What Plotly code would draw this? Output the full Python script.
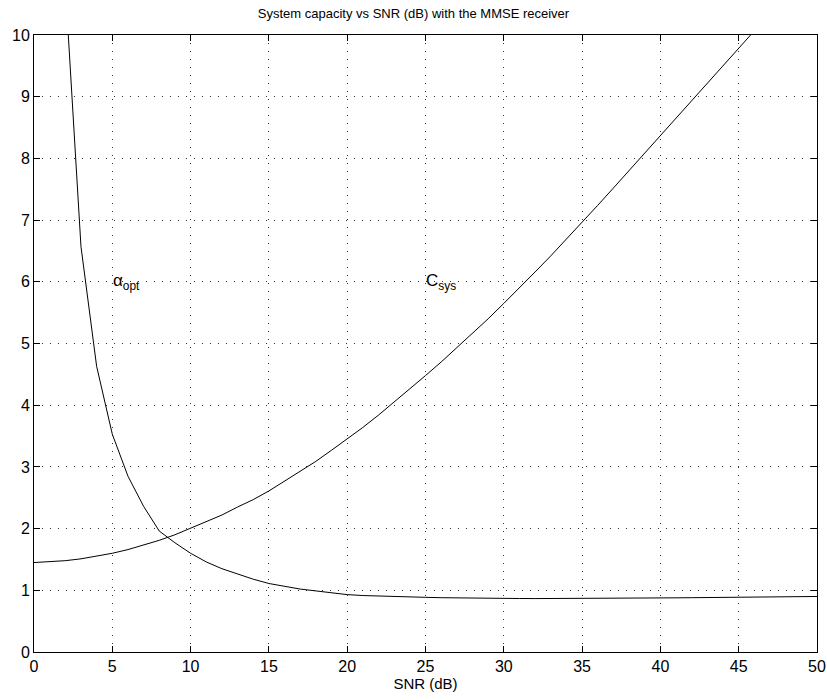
import plotly.graph_objects as go

snr_db = list(range(0, 51))

c_sys = [1.45, 1.46, 1.48, 1.51, 1.55, 1.60, 1.66, 1.73, 1.81, 1.90,
         2.01, 2.11, 2.22, 2.35, 2.47, 2.61, 2.77, 2.93, 3.09, 3.27,
         3.45, 3.64, 3.84, 4.05, 4.26, 4.48, 4.70, 4.93, 5.16, 5.40,
         5.65, 5.90, 6.16, 6.42, 6.69, 6.97, 7.24, 7.52, 7.80, 8.08,
         8.36, 8.64, 8.92, 9.20, 9.48, 9.76, 10.05, 10.33, 10.62, 10.91, 11.20]

alpha_opt = [28.0, 17.5, 10.8, 6.57, 4.63, 3.53, 2.85, 2.36, 1.96, 1.77,
             1.60, 1.46, 1.35, 1.26, 1.18, 1.11, 1.06, 1.02, 0.99, 0.96,
             0.93, 0.915, 0.905, 0.895, 0.89, 0.886, 0.88, 0.875, 0.872, 0.87,
             0.868, 0.867, 0.866, 0.866, 0.866, 0.866, 0.867, 0.869, 0.871, 0.873,
             0.876, 0.878, 0.88, 0.883, 0.885, 0.888, 0.890, 0.893, 0.895, 0.898, 0.90]

x_ticks = [0, 5, 10, 15, 20, 25, 30, 35, 40, 45, 50]
y_ticks = [0, 1, 2, 3, 4, 5, 6, 7, 8, 9, 10]

title_text = "System capacity vs SNR (dB) with the MMSE receiver"
x_label = "SNR (dB)"

font_family = "Liberation Sans, Arial, Helvetica, sans-serif"

fig = go.Figure()
fig.add_trace(go.Scatter(x=snr_db, y=alpha_opt, mode="lines",
                         line=dict(color="black", width=1), showlegend=False))
fig.add_trace(go.Scatter(x=snr_db, y=c_sys, mode="lines",
                         line=dict(color="black", width=1), showlegend=False))

fig.add_annotation(x=5, y=6, text="α<sub>opt</sub>", showarrow=False,
                   xanchor="left", yanchor="middle", xshift=-1,
                   font=dict(family=font_family, size=17, color="black"))
fig.add_annotation(x=25, y=6, text="C<sub>sys</sub>", showarrow=False,
                   xanchor="left", yanchor="middle", xshift=-2,
                   font=dict(family=font_family, size=17, color="black"))

axis_common = dict(
    showline=True, linecolor="black", linewidth=1, mirror="ticks",
    ticks="inside", ticklen=6, tickcolor="black", tickwidth=1,
    showgrid=True, gridcolor="rgba(0,0,0,0.8)", griddash="1px,7px", gridwidth=1,
    zeroline=False, automargin=False,
    tickfont=dict(family=font_family, size=16, color="black"),
)

fig.update_xaxes(range=[0, 50], tickvals=x_ticks,
                 title=dict(text=x_label, standoff=3,
                            font=dict(family=font_family, size=15, color="black")),
                 **axis_common)
fig.update_yaxes(range=[0, 10], tickvals=y_ticks, **axis_common)

fig.update_layout(
    width=827, height=700,
    margin=dict(l=34, r=10, t=35, b=48, autoexpand=False),
    paper_bgcolor="white", plot_bgcolor="white",
    title=dict(text=title_text, x=0.5, xanchor="center", y=0.988, yanchor="top",
               font=dict(family=font_family, size=13, color="black")),
)

fig.write_html("out.html",
               config={"displayModeBar": False},
               post_script="document.body.style.margin='0';document.body.style.overflow='hidden';")
